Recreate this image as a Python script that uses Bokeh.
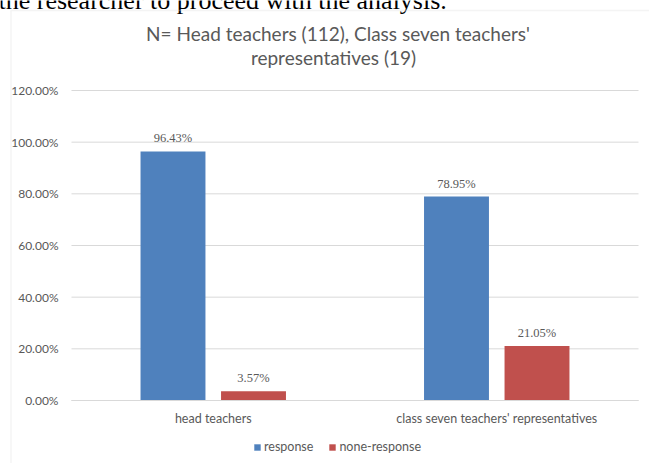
from bokeh.plotting import figure
from bokeh.models import (ColumnDataSource, Range1d, FixedTicker, PrintfTickFormatter,
                          LabelSet, Label, Legend, LegendItem, BoxAnnotation)
from bokeh.embed import file_html
from bokeh.resources import INLINE

categories = ["head teachers", "class seven teachers' representatives"]
series_names = ["response", "none-response"]
response = [96.43, 78.95]
none_response = [3.57, 21.05]
y_ticks = [0, 20, 40, 60, 80, 100, 120]
title_lines = ["N= Head teachers (112), Class seven teachers'", "representatives (19)"]
page_text = "the researcher to proceed with the analysis."

BLUE = "#4f81bd"
RED = "#c0504d"
TXT = "#595959"
GRID = "#d9d9d9"
FONT = "Lato"

W, H = 649, 463
off = 0.142      # dodge of each bar from the category centre
bw = 0.229       # bar width (category units)

centers = [i + 0.5 for i in range(len(categories))]
source = ColumnDataSource(dict(
    x_resp=[c - off for c in centers],
    x_none=[c + off for c in centers],
    response=response,
    none=none_response,
    response_lbl=[f"{v:.2f}%" for v in response],
    none_lbl=[f"{v:.2f}%" for v in none_response],
))
grid_src = ColumnDataSource(dict(y=y_ticks, x0=[0] * len(y_ticks),
                                 x1=[len(categories)] * len(y_ticks)))

# frame covers the whole canvas; category k spans [k, k+1]
p = figure(x_range=Range1d(-0.25044, 2.0388), y_range=Range1d(-24.387, 154.839),
           width=W, height=H, output_backend="svg", toolbar_location=None,
           min_border=0, min_border_left=0, min_border_right=0,
           min_border_top=0, min_border_bottom=0)
p.background_fill_color = "white"
p.border_fill_color = "white"
p.outline_line_color = None
p.xgrid.visible = False
p.ygrid.visible = False

# horizontal gridlines limited to the plot area
p.segment(x0="x0", x1="x1", y0="y", y1="y", source=grid_src,
          line_color=GRID, line_width=1)

r1 = p.vbar(x="x_resp", top="response", width=bw, source=source,
            fill_color=BLUE, line_color=None)
r2 = p.vbar(x="x_none", top="none", width=bw, source=source,
            fill_color=RED, line_color=None)

for xcol, col, lbl in (("x_resp", "response", "response_lbl"),
                       ("x_none", "none", "none_lbl")):
    p.add_layout(LabelSet(x=xcol, y=col, text=lbl, source=source,
                          text_align="center", text_baseline="bottom", y_offset=6,
                          text_font=FONT, text_font_size="12.5px", text_color=TXT))

# y axis pinned at the left edge of the plot area
p.yaxis.fixed_location = 0
p.yaxis.ticker = FixedTicker(ticks=y_ticks)
p.yaxis.formatter = PrintfTickFormatter(format="%.2f%%")
p.yaxis.axis_line_color = None
p.yaxis.major_tick_line_color = None
p.yaxis.minor_tick_line_color = None
p.yaxis.major_label_standoff = 7
p.yaxis.major_label_text_font = FONT
p.yaxis.major_label_text_font_size = "12px"
p.yaxis.major_label_text_color = TXT

# x axis pinned at y = 0
p.xaxis.fixed_location = 0
p.xaxis.bounds = (0, len(categories))
p.xaxis.ticker = FixedTicker(ticks=centers)
p.xaxis.major_label_overrides = {c: name for c, name in zip(centers, categories)}
p.xaxis.axis_line_color = GRID
p.xaxis.axis_line_width = 1
p.xaxis.major_tick_line_color = None
p.xaxis.minor_tick_line_color = None
p.xaxis.major_label_standoff = 4
p.xaxis.major_label_text_font = FONT
p.xaxis.major_label_text_font_size = "12.5px"
p.xaxis.major_label_text_color = TXT

# chart title (two centred lines)
for txt, xx, yy in zip(title_lines, (337.5, 333), (H - 33, H - 57)):
    p.add_layout(Label(x=xx, y=yy, x_units="screen", y_units="screen", text=txt,
                       text_align="center", text_baseline="middle",
                       text_font=FONT, text_font_size="19px", text_color=TXT))

# cropped line of the surrounding document at the very top
p.add_layout(Label(x=-2, y=H, x_units="screen", y_units="screen", text=page_text,
                   text_align="left", text_baseline="alphabetic",
                   text_font="Liberation Serif", text_font_size="26px",
                   text_color="black"))

# chart-area border (left and top edges)
p.add_layout(BoxAnnotation(left=10.5, right=W + 50, top=H - 10, bottom=-50,
                           left_units="screen", right_units="screen",
                           top_units="screen", bottom_units="screen",
                           fill_alpha=0, line_color=GRID, line_width=1.5))

legend = Legend(items=[LegendItem(label=series_names[0], renderers=[r1]),
                       LegendItem(label=series_names[1], renderers=[r2])],
                orientation="horizontal", location=(253, 9),
                padding=0, margin=0, spacing=15, label_standoff=3,
                glyph_width=8, glyph_height=8, label_height=14,
                label_text_font=FONT, label_text_font_size="12.5px",
                label_text_color=TXT, border_line_color=None,
                background_fill_alpha=0)
p.add_layout(legend, "center")

open("out.html", "w").write(file_html(p, INLINE))
